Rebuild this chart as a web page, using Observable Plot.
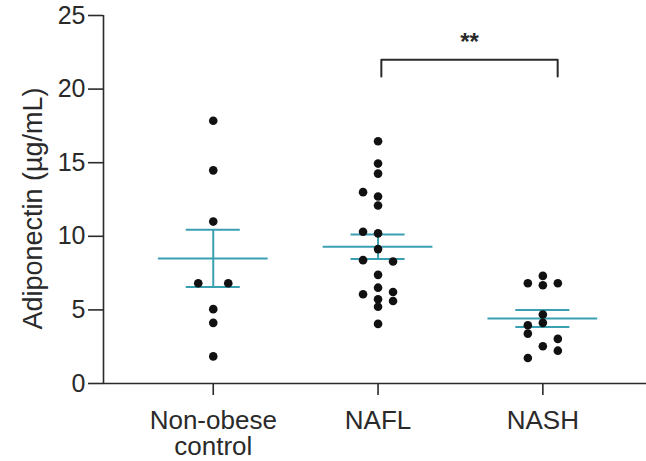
<!DOCTYPE html>
<html>
<head>
<meta charset="utf-8">
<script src="https://cdn.jsdelivr.net/npm/d3@7"></script>
<script src="https://cdn.jsdelivr.net/npm/@observablehq/plot@0.6"></script>
<style>
  html, body { margin: 0; padding: 0; background: #fff; }
  #chart { width: 646px; height: 461px; }
</style>
</head>
<body>
<div id="chart"></div>
<script>
// ---- data ----
const groups = ["Non-obese\ncontrol", "NAFL", "NASH"];
const yTicks = [0, 5, 10, 15, 20, 25];
const yLabel = "Adiponectin (\u00b5g/mL)";

const controlValues = [17.85, 14.48, 11.0, 6.81, 6.81, 5.05, 4.12, 1.84];
const controlCols   = [0, 0, 0, -1, 1, 0, 0, 0];

const naflValues = [16.46, 14.94, 14.26, 13.0, 12.7, 12.09, 10.31, 10.2, 9.13, 8.38, 8.29, 7.38, 6.51, 6.06, 6.22, 5.72, 5.6, 5.21, 4.05];
const naflCols   = [0, 0, 0, -1, 0, 0, -1, 0, 0, -1, 1, 0, 0, -1, 1, 0, 1, 0, 0];

const nashValues = [7.31, 6.81, 6.67, 6.81, 4.69, 4.12, 3.96, 3.39, 3.03, 2.53, 2.23, 1.73];
const nashCols   = [0, -1, 0, 1, 0, 0, -1, -1, 1, 0, 1, -1];

const means = [8.50, 9.29, 4.41];
const sems  = [1.95, 0.83, 0.58];

const sigPair = [1, 2];      // NAFL vs NASH
const sigLabel = "**";
const sigY = 22.0;

// ---- build tables ----
const colStep = 0.091;
const points = [];
[[controlValues, controlCols], [naflValues, naflCols], [nashValues, nashCols]].forEach(([vals, cols], g) => {
  vals.forEach((v, i) => points.push({g, col: cols[i], v}));
});
const stats = means.map((m, g) => ({g, mean: m, lo: m - sems[g], hi: m + sems[g]}));

const xDomain = [-0.666, 2.629];
const teal = "#3b9fb2";
const ink = "#2a2a2a";

const bracket = [
  {x: sigPair[0] + 0.02, y: sigY - 1.15},
  {x: sigPair[0] + 0.02, y: sigY},
  {x: sigPair[1] + 0.09, y: sigY},
  {x: sigPair[1] + 0.09, y: sigY - 1.15}
];

const chart = Plot.plot({
  width: 646,
  height: 461,
  marginLeft: 103,
  marginRight: 0,
  marginTop: 15,
  marginBottom: 78,
  style: {fontFamily: "'Liberation Sans', Arial, sans-serif", color: ink, background: "#fff", overflow: "visible"},
  x: {domain: xDomain},
  y: {domain: [0, 25]},
  marks: [
    Plot.axisY({ticks: yTicks, tickSize: 15, tickPadding: 3, fontSize: 25, label: null, strokeWidth: 1.6, stroke: ink}),
    Plot.axisX({ticks: [0, 1, 2], tickFormat: i => groups[i], tickSize: 12, tickPadding: 15, fontSize: 26, label: null, strokeWidth: 1.6, stroke: ink, lineHeight: 1.0}),
    Plot.ruleX([xDomain[0]], {stroke: ink, strokeWidth: 1.6}),
    Plot.ruleY([0], {stroke: ink, strokeWidth: 1.6}),
    Plot.text([yLabel], {frameAnchor: "left", textAnchor: "middle", rotate: -90, dx: -70, dy: 9, fontSize: 27, fill: ink}),
    Plot.ruleY(stats, {x1: d => d.g - 0.333, x2: d => d.g + 0.333, y: "mean", stroke: teal, strokeWidth: 2}),
    Plot.ruleY(stats, {x1: d => d.g - 0.164, x2: d => d.g + 0.164, y: "hi", stroke: teal, strokeWidth: 2}),
    Plot.ruleY(stats, {x1: d => d.g - 0.164, x2: d => d.g + 0.164, y: "lo", stroke: teal, strokeWidth: 2}),
    Plot.ruleX(stats, {x: "g", y1: "lo", y2: "hi", stroke: teal, strokeWidth: 2}),
    Plot.dot(points, {x: d => d.g + d.col * colStep, y: "v", r: 4.3, fill: "#111", stroke: "none"}),
    Plot.line(bracket, {x: "x", y: "y", stroke: ink, strokeWidth: 2, curve: "linear"}),
    Plot.text([sigLabel], {x: (bracket[0].x + bracket[2].x) / 2, y: sigY + 1.2, fontSize: 24, fontWeight: "bold", fill: ink})
  ]
});
document.getElementById("chart").append(chart);
</script>
</body>
</html>
